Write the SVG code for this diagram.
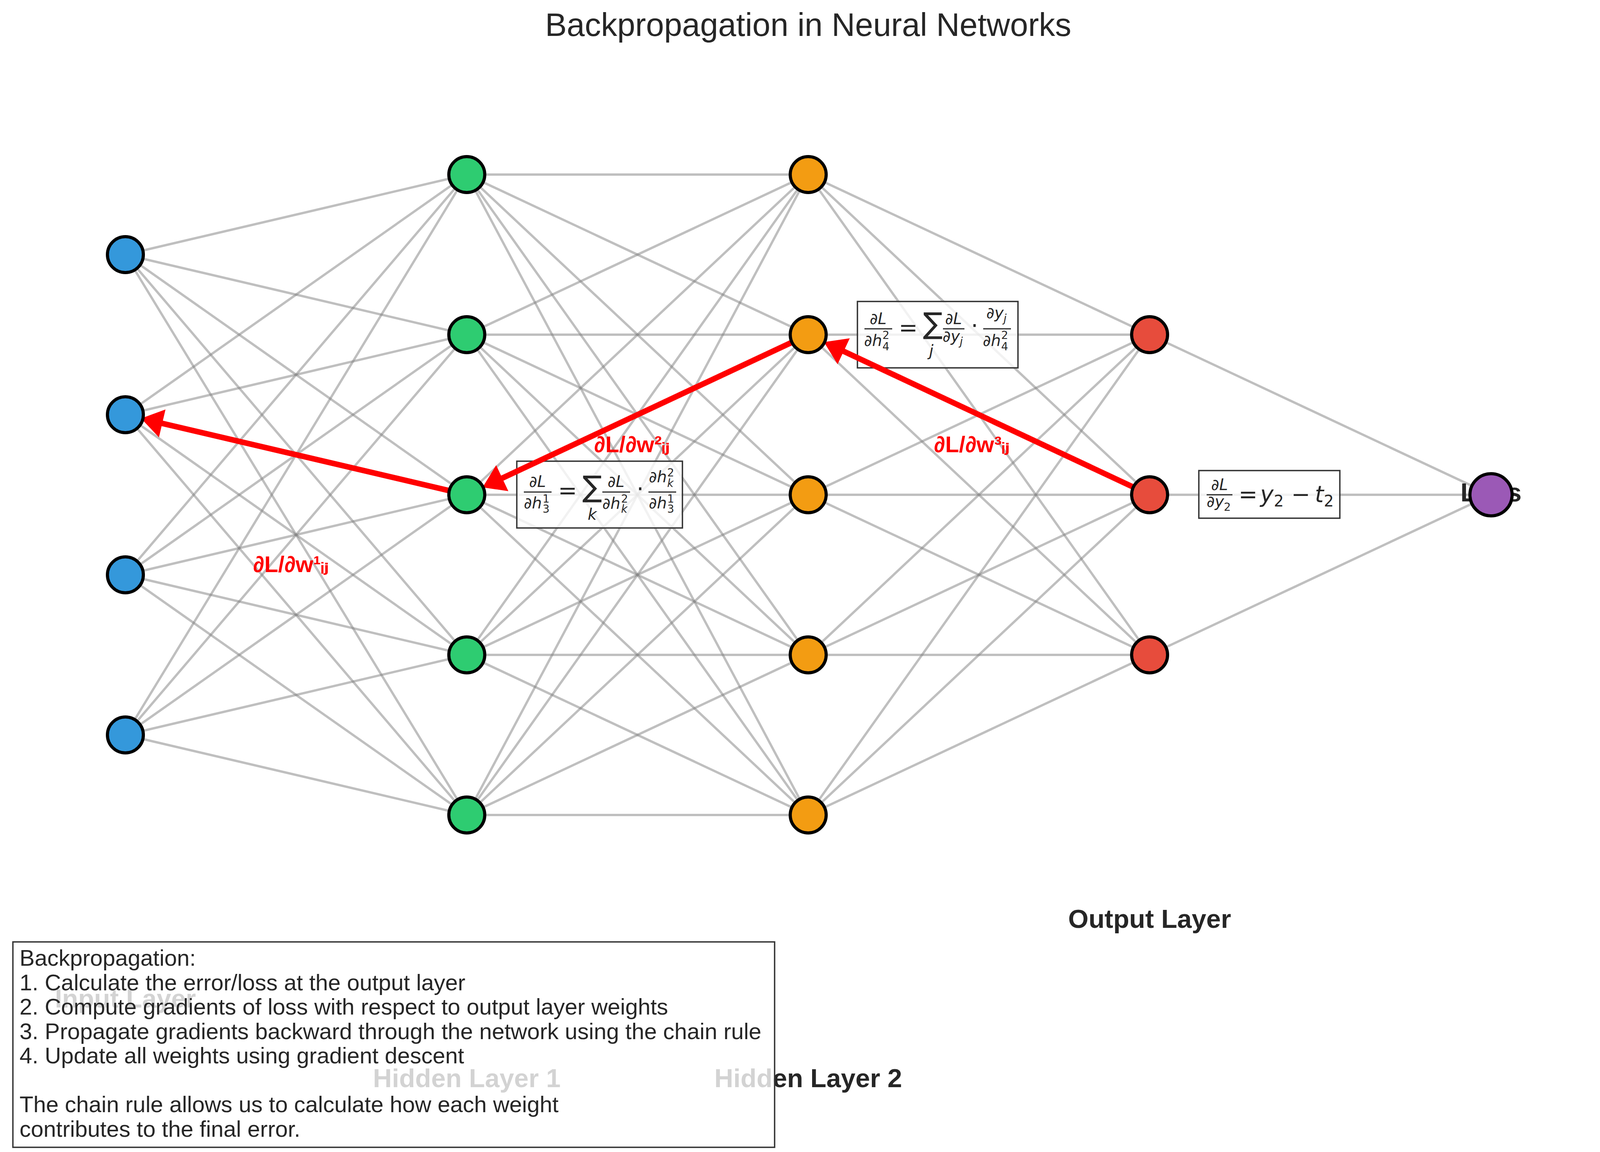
<svg xmlns="http://www.w3.org/2000/svg" width="4134" height="2950" viewBox="0 0 4134 2950">
<style>
.e{stroke:#808080;stroke-opacity:.5;stroke-width:6;fill:none}
.n{stroke:#000;stroke-width:8}
.title{font-family:"Liberation Sans",Arial,sans-serif;font-size:83px;fill:#262626;text-anchor:middle}
.lab{font-family:"Liberation Sans",Arial,sans-serif;font-size:67px;font-weight:bold;fill:#262626;text-anchor:middle}
.g{font-family:"Liberation Sans",Arial,"DejaVu Sans",sans-serif;font-size:58px;font-weight:bold;fill:#ff0000}
.box{fill:#fff;fill-opacity:.8;stroke:#333;stroke-width:3.5}
.m{font-family:"DejaVu Sans",sans-serif;fill:#262626}
.i{font-style:italic}
.s40{font-size:40px}.s28{font-size:28px}.s58{font-size:58px}.s75{font-size:75px}
.mid{text-anchor:middle}
.bar{stroke:#262626;stroke-width:3}
.leg{font-family:"Liberation Sans",Arial,sans-serif;font-size:58px;fill:#262626}
.arr{fill:#ff0000;stroke:#ff0000;stroke-width:4;stroke-linejoin:miter}
</style>
<rect width="4134" height="2950" fill="#fff"/>
<text class="title" x="2069" y="92">Backpropagation in Neural Networks</text>
<g id="connectors">
<line class="e" x1="321" y1="652" x2="1195" y2="447"/><line class="e" x1="321" y1="652" x2="1195" y2="857"/><line class="e" x1="321" y1="652" x2="1195" y2="1267"/><line class="e" x1="321" y1="652" x2="1195" y2="1677"/><line class="e" x1="321" y1="652" x2="1195" y2="2087"/>
<line class="e" x1="321" y1="1062" x2="1195" y2="447"/><line class="e" x1="321" y1="1062" x2="1195" y2="857"/><line class="e" x1="321" y1="1062" x2="1195" y2="1267"/><line class="e" x1="321" y1="1062" x2="1195" y2="1677"/><line class="e" x1="321" y1="1062" x2="1195" y2="2087"/>
<line class="e" x1="321" y1="1472" x2="1195" y2="447"/><line class="e" x1="321" y1="1472" x2="1195" y2="857"/><line class="e" x1="321" y1="1472" x2="1195" y2="1267"/><line class="e" x1="321" y1="1472" x2="1195" y2="1677"/><line class="e" x1="321" y1="1472" x2="1195" y2="2087"/>
<line class="e" x1="321" y1="1882" x2="1195" y2="447"/><line class="e" x1="321" y1="1882" x2="1195" y2="857"/><line class="e" x1="321" y1="1882" x2="1195" y2="1267"/><line class="e" x1="321" y1="1882" x2="1195" y2="1677"/><line class="e" x1="321" y1="1882" x2="1195" y2="2087"/>
<line class="e" x1="1195" y1="447" x2="2069" y2="447"/><line class="e" x1="1195" y1="447" x2="2069" y2="857"/><line class="e" x1="1195" y1="447" x2="2069" y2="1267"/><line class="e" x1="1195" y1="447" x2="2069" y2="1677"/><line class="e" x1="1195" y1="447" x2="2069" y2="2087"/>
<line class="e" x1="1195" y1="857" x2="2069" y2="447"/><line class="e" x1="1195" y1="857" x2="2069" y2="857"/><line class="e" x1="1195" y1="857" x2="2069" y2="1267"/><line class="e" x1="1195" y1="857" x2="2069" y2="1677"/><line class="e" x1="1195" y1="857" x2="2069" y2="2087"/>
<line class="e" x1="1195" y1="1267" x2="2069" y2="447"/><line class="e" x1="1195" y1="1267" x2="2069" y2="857"/><line class="e" x1="1195" y1="1267" x2="2069" y2="1267"/><line class="e" x1="1195" y1="1267" x2="2069" y2="1677"/><line class="e" x1="1195" y1="1267" x2="2069" y2="2087"/>
<line class="e" x1="1195" y1="1677" x2="2069" y2="447"/><line class="e" x1="1195" y1="1677" x2="2069" y2="857"/><line class="e" x1="1195" y1="1677" x2="2069" y2="1267"/><line class="e" x1="1195" y1="1677" x2="2069" y2="1677"/><line class="e" x1="1195" y1="1677" x2="2069" y2="2087"/>
<line class="e" x1="1195" y1="2087" x2="2069" y2="447"/><line class="e" x1="1195" y1="2087" x2="2069" y2="857"/><line class="e" x1="1195" y1="2087" x2="2069" y2="1267"/><line class="e" x1="1195" y1="2087" x2="2069" y2="1677"/><line class="e" x1="1195" y1="2087" x2="2069" y2="2087"/>
<line class="e" x1="2069" y1="447" x2="2943" y2="857"/><line class="e" x1="2069" y1="447" x2="2943" y2="1267"/><line class="e" x1="2069" y1="447" x2="2943" y2="1677"/>
<line class="e" x1="2069" y1="857" x2="2943" y2="857"/><line class="e" x1="2069" y1="857" x2="2943" y2="1267"/><line class="e" x1="2069" y1="857" x2="2943" y2="1677"/>
<line class="e" x1="2069" y1="1267" x2="2943" y2="857"/><line class="e" x1="2069" y1="1267" x2="2943" y2="1267"/><line class="e" x1="2069" y1="1267" x2="2943" y2="1677"/>
<line class="e" x1="2069" y1="1677" x2="2943" y2="857"/><line class="e" x1="2069" y1="1677" x2="2943" y2="1267"/><line class="e" x1="2069" y1="1677" x2="2943" y2="1677"/>
<line class="e" x1="2069" y1="2087" x2="2943" y2="857"/><line class="e" x1="2069" y1="2087" x2="2943" y2="1267"/><line class="e" x1="2069" y1="2087" x2="2943" y2="1677"/>
<line class="e" x1="2943" y1="857" x2="3817" y2="1267"/><line class="e" x1="2943" y1="1267" x2="3817" y2="1267"/><line class="e" x1="2943" y1="1677" x2="3817" y2="1267"/>
</g>
<g id="layer-labels">
<text class="lab" x="321" y="2580">Input Layer</text>
<text class="lab" x="1195" y="2784">Hidden Layer 1</text>
<text class="lab" x="2069" y="2784">Hidden Layer 2</text>
<text class="lab" x="2943" y="2376">Output Layer</text>
<text class="lab" x="3817" y="1284">Loss</text>
</g>
<g id="formula-h2">
<rect class="box" x="2195" y="772" width="411" height="170"/>
<text class="m i s40 mid" x="2248" y="830">∂L</text>
<line class="bar" x1="2213" y1="842" x2="2284" y2="842"/>
<text class="m i s40" x="2212" y="886">∂h</text>
<text class="m s28" x="2259" y="868">2</text>
<text class="m s28" x="2259" y="897">4</text>
<text class="m s58 mid" x="2325" y="859">=</text>
<text class="m s75 mid" x="2388" y="854">∑</text>
<text class="m i s40 mid" x="2384" y="912">j</text>
<text class="m i s40 mid" x="2441" y="830">∂L</text>
<line class="bar" x1="2414" y1="842" x2="2469" y2="842"/>
<text class="m i s40" x="2413" y="875">∂y</text>
<text class="m i s28" x="2457" y="884">j</text>
<text class="m s58 mid" x="2495" y="854">⋅</text>
<text class="m i s40" x="2525" y="815">∂y</text>
<text class="m i s28" x="2569" y="825">j</text>
<line class="bar" x1="2517" y1="842" x2="2588" y2="842"/>
<text class="m i s40" x="2516" y="886">∂h</text>
<text class="m s28" x="2563" y="868">2</text>
<text class="m s28" x="2563" y="897">4</text>
</g>
<g id="formula-h1">
<rect class="box" x="1323" y="1181" width="424" height="171"/>
<text class="m i s40 mid" x="1376" y="1247">∂L</text>
<line class="bar" x1="1341" y1="1260" x2="1412" y2="1260"/>
<text class="m i s40" x="1341" y="1302">∂h</text>
<text class="m s28" x="1389" y="1287">1</text>
<text class="m s28" x="1389" y="1313">3</text>
<text class="m s58 mid" x="1453" y="1276">=</text>
<text class="m s75 mid" x="1516" y="1272">∑</text>
<text class="m i s40 mid" x="1516" y="1331">k</text>
<text class="m i s40 mid" x="1577" y="1247">∂L</text>
<line class="bar" x1="1542" y1="1260" x2="1613" y2="1260"/>
<text class="m i s40" x="1542" y="1303">∂h</text>
<text class="m s28" x="1590" y="1287">2</text>
<text class="m i s28" x="1590" y="1313">k</text>
<text class="m s58 mid" x="1639" y="1272">⋅</text>
<text class="m i s40" x="1661" y="1235">∂h</text>
<text class="m s28" x="1708" y="1220">2</text>
<text class="m i s28" x="1708" y="1247">k</text>
<line class="bar" x1="1660" y1="1260" x2="1731" y2="1260"/>
<text class="m i s40" x="1661" y="1302">∂h</text>
<text class="m s28" x="1708" y="1287">1</text>
<text class="m s28" x="1708" y="1313">3</text>
</g>
<g id="formula-out">
<rect class="box" x="3069" y="1205" width="361" height="122"/>
<text class="m i s40 mid" x="3122" y="1255">∂L</text>
<line class="bar" x1="3089" y1="1267" x2="3155" y2="1267"/>
<text class="m i s40" x="3089" y="1298">∂y</text>
<text class="m s28" x="3133" y="1308">2</text>
<text class="m s58 mid" x="3195" y="1286">=</text>
<text class="m i s58" x="3226" y="1286">y</text>
<text class="m s40" x="3261" y="1297">2</text>
<text class="m s58 mid" x="3330" y="1286">−</text>
<text class="m i s58" x="3366" y="1286">t</text>
<text class="m s40" x="3389" y="1297">2</text>
</g>
<g id="gradient-arrows">
<polygon class="arr" points="1152.49,1251.64 414.57,1078.65 420.91,1051.58 364.7,1072.25 405.85,1115.84 412.19,1088.77 1150.11,1261.76"/>
<polygon class="arr" points="2023.09,872.79 1281.76,1220.56 1269.96,1195.39 1238.70,1246.50 1297.99,1255.15 1286.18,1229.98 2027.51,882.21"/>
<polygon class="arr" points="2901.51,1241.79 2160.18,894.03 2171.99,868.86 2112.70,877.50 2143.96,928.62 2155.76,903.45 2897.09,1251.21"/>
</g>
<g id="input-layer">
<g id="in1"><circle class="n" cx="321" cy="652" r="46" fill="#3498db"/></g>
<g id="in2"><circle class="n" cx="321" cy="1062" r="46" fill="#3498db"/></g>
<g id="in3"><circle class="n" cx="321" cy="1472" r="46" fill="#3498db"/></g>
<g id="in4"><circle class="n" cx="321" cy="1882" r="46" fill="#3498db"/></g>
</g>
<g id="hidden-layer-1">
<g id="h1_1"><circle class="n" cx="1195" cy="447" r="46" fill="#2ecc71"/></g>
<g id="h1_2"><circle class="n" cx="1195" cy="857" r="46" fill="#2ecc71"/></g>
<g id="h1_3"><circle class="n" cx="1195" cy="1267" r="46" fill="#2ecc71"/></g>
<g id="h1_4"><circle class="n" cx="1195" cy="1677" r="46" fill="#2ecc71"/></g>
<g id="h1_5"><circle class="n" cx="1195" cy="2087" r="46" fill="#2ecc71"/></g>
</g>
<g id="hidden-layer-2">
<g id="h2_1"><circle class="n" cx="2069" cy="447" r="46" fill="#f39c12"/></g>
<g id="h2_2"><circle class="n" cx="2069" cy="857" r="46" fill="#f39c12"/></g>
<g id="h2_3"><circle class="n" cx="2069" cy="1267" r="46" fill="#f39c12"/></g>
<g id="h2_4"><circle class="n" cx="2069" cy="1677" r="46" fill="#f39c12"/></g>
<g id="h2_5"><circle class="n" cx="2069" cy="2087" r="46" fill="#f39c12"/></g>
</g>
<g id="output-layer">
<g id="out1"><circle class="n" cx="2943" cy="857" r="46" fill="#e74c3c"/></g>
<g id="out2"><circle class="n" cx="2943" cy="1267" r="46" fill="#e74c3c"/></g>
<g id="out3"><circle class="n" cx="2943" cy="1677" r="46" fill="#e74c3c"/></g>
</g>
<g id="loss"><circle class="n" cx="3817" cy="1267" r="54" fill="#9b59b6"/></g>
<g id="gradient-labels">
<text class="g" x="648" y="1465">∂L/∂w¹ᵢⱼ</text>
<text class="g" x="1521" y="1158">∂L/∂w²ᵢⱼ</text>
<text class="g" x="2391" y="1158">∂L/∂w³ᵢⱼ</text>
</g>
<g id="legend">
<rect class="box" x="33" y="2412" width="1950" height="526"/>
<text class="leg" x="50" y="2473">Backpropagation:</text>
<text class="leg" x="50" y="2535.5">1. Calculate the error/loss at the output layer</text>
<text class="leg" x="50" y="2598">2. Compute gradients of loss with respect to output layer weights</text>
<text class="leg" x="50" y="2660.5">3. Propagate gradients backward through the network using the chain rule</text>
<text class="leg" x="50" y="2723">4. Update all weights using gradient descent</text>
<text class="leg" x="50" y="2848">The chain rule allows us to calculate how each weight</text>
<text class="leg" x="50" y="2910.5">contributes to the final error.</text>
</g>
</svg>
